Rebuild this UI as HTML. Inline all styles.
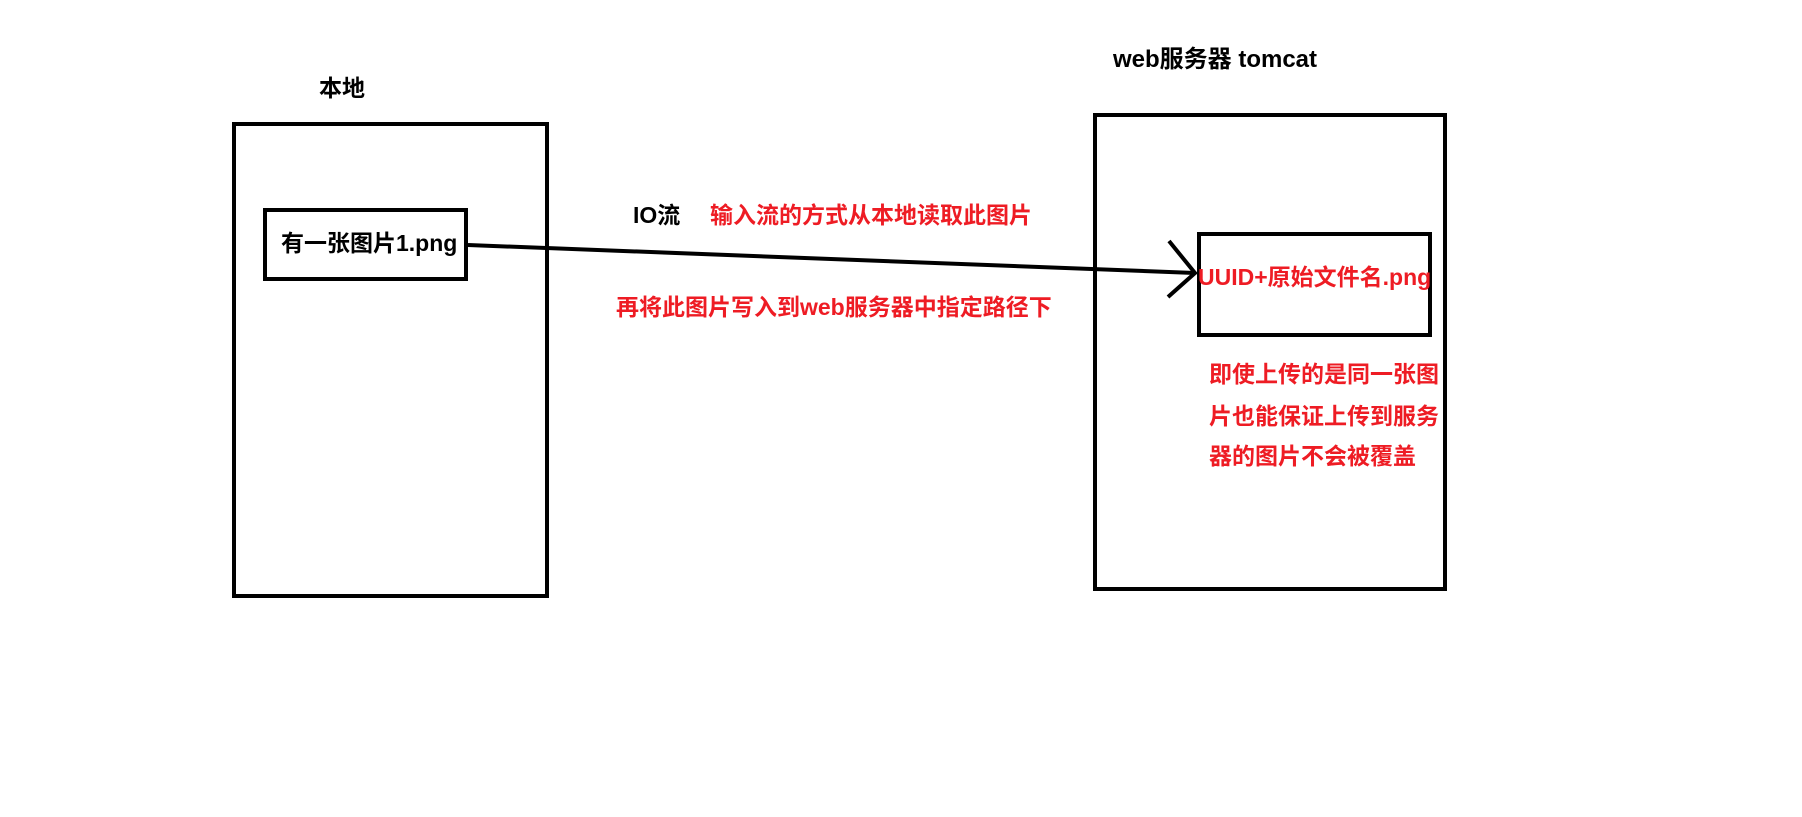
<!DOCTYPE html>
<html><head><meta charset="utf-8"><style>
html,body{margin:0;padding:0;background:#fff;}
body{width:1802px;height:817px;position:relative;overflow:hidden;font-family:"Liberation Sans","Noto Sans CJK SC",sans-serif;font-weight:bold;}
.t{position:absolute;white-space:nowrap;font-size:23px;line-height:1;}
.r{color:#ee1c24;}
.b{position:absolute;border:4px solid #000;box-sizing:border-box;}
</style></head><body>
<div class="b" style="left:232px;top:122px;width:317px;height:476px;"></div>
<div class="b" style="left:263px;top:208px;width:205px;height:73px;"></div>
<div class="b" style="left:1093px;top:113px;width:354px;height:478px;"></div>
<div class="b" style="left:1197px;top:232px;width:235px;height:105px;"></div>
<svg width="1802" height="817" style="position:absolute;left:0;top:0">
<line x1="468" y1="245" x2="1195" y2="273" stroke="#000" stroke-width="4"/>
<polyline points="1169,241 1195,273 1168,297" fill="none" stroke="#000" stroke-width="4"/>
</svg>
<div class="t" style="left:319px;top:77px;">本地</div>
<div class="t" style="left:1113px;top:48px;font-size:24px;">web服务器 tomcat</div>
<div class="t" style="left:281px;top:232px;">有一张图片1.png</div>
<div class="t" style="left:633px;top:204px;">IO流</div>
<div class="t r" style="left:710px;top:204px;">输入流的方式从本地读取此图片</div>
<div class="t r" style="left:616px;top:296px;">再将此图片写入到web服务器中指定路径下</div>
<div class="t r" style="left:1198px;top:266px;">UUID+原始文件名.png</div>
<div class="t r" style="left:1209px;top:363px;">即使上传的是同一张图</div>
<div class="t r" style="left:1209px;top:405px;">片也能保证上传到服务</div>
<div class="t r" style="left:1209px;top:445px;">器的图片不会被覆盖</div>
</body></html>
